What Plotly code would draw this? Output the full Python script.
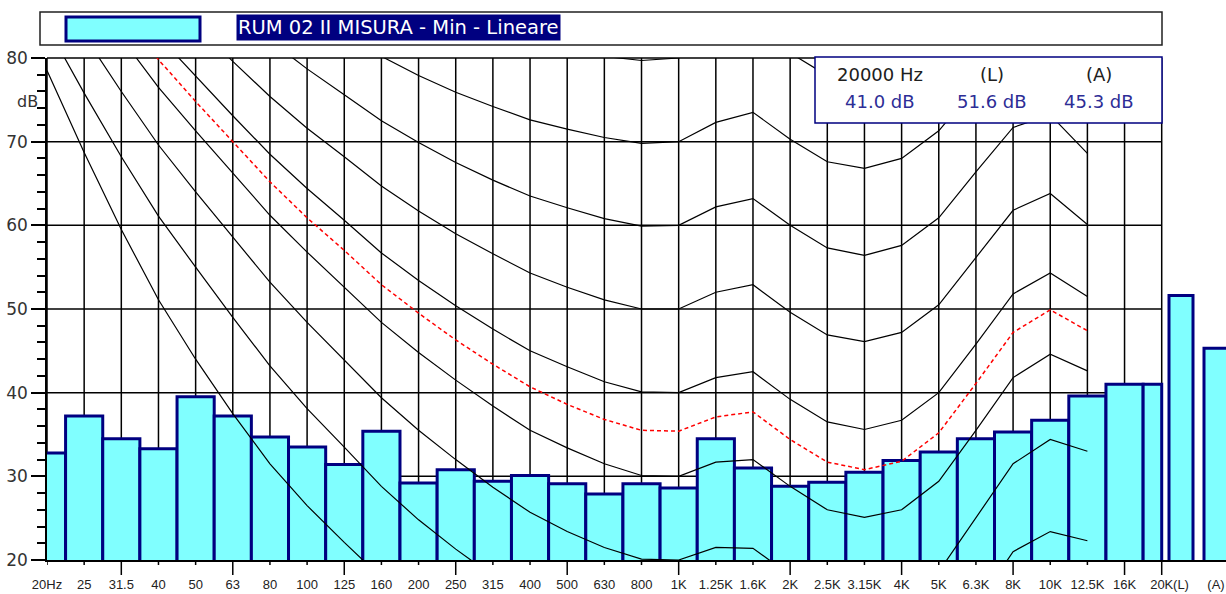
import plotly.graph_objects as go

# ---------------- data ----------------
bands = ["20Hz", "25", "31.5", "40", "50", "63", "80", "100", "125", "160",
         "200", "250", "315", "400", "500", "630", "800", "1K", "1.25K", "1.6K",
         "2K", "2.5K", "3.15K", "4K", "5K", "6.3K", "8K", "10K", "12.5K", "16K", "20K"]
band_levels = [32.8, 37.2, 34.5, 33.3, 39.5, 37.2, 34.7, 33.5, 31.4, 35.4,
               29.2, 30.8, 29.4, 30.1, 29.1, 27.9, 29.1, 28.6, 34.5, 31.0,
               28.8, 29.3, 30.5, 31.9, 32.9, 34.5, 35.3, 36.7, 39.6, 41.0, 41.0]
overall_labels = ["(L)", "(A)"]
overall_levels = [51.6, 45.3]

# equal-loudness contours, 20 Hz .. 12.5 kHz (dB)
threshold = [78.5, 68.7, 59.5, 51.1, 44.0, 37.5, 31.5, 26.5, 22.1, 17.9, 14.4, 11.4, 8.6, 6.2, 4.4,
             3.0, 2.2, 2.4, 3.5, 1.7, -1.3, -4.2, -6.0, -5.4, -1.5, 6.0, 12.6, 13.9, 12.3]
phon10 = [83.8, 75.8, 68.2, 61.1, 55.0, 49.0, 43.2, 38.1, 33.5, 28.8, 24.8, 21.3, 18.1, 15.1, 13.0,
          11.2, 10.0, 10.0, 11.3, 10.4, 7.3, 4.5, 3.0, 3.8, 7.5, 14.4, 21.0, 23.4, 22.3]
phon20 = [89.6, 82.7, 76.0, 69.6, 64.0, 58.6, 53.2, 48.4, 43.9, 39.4, 35.5, 32.0, 28.7, 25.7, 23.4,
          21.5, 20.1, 20.0, 21.5, 21.4, 18.2, 15.4, 14.3, 15.1, 18.6, 25.0, 31.5, 34.4, 33.0]
phon30 = [94.9, 88.5, 82.4, 76.5, 71.3, 66.2, 61.2, 56.8, 52.6, 48.4, 44.8, 41.5, 38.4, 35.5, 33.4,
          31.5, 30.1, 30.0, 31.7, 32.0, 28.8, 26.0, 25.1, 26.0, 29.4, 35.5, 41.8, 44.6, 42.6]
phon40 = [99.9, 93.9, 88.2, 82.6, 77.8, 73.1, 68.5, 64.4, 60.6, 56.7, 53.4, 50.4, 47.6, 45.0, 43.1,
          41.3, 40.1, 40.0, 41.8, 42.5, 39.2, 36.5, 35.6, 36.7, 40.0, 45.8, 51.8, 54.3, 51.5]
phon50 = [104.7, 99.2, 93.7, 88.5, 84.0, 79.6, 75.4, 71.6, 68.2, 64.7, 61.7, 59.0, 56.6, 54.3, 52.6,
          51.1, 50.0, 50.0, 52.0, 52.9, 49.6, 46.9, 46.1, 47.2, 50.5, 56.1, 61.8, 63.8, 60.1]
phon60 = [109.5, 104.2, 99.1, 94.2, 90.0, 85.9, 82.1, 78.7, 75.6, 72.5, 69.9, 67.5, 65.4, 63.5, 62.1,
          60.8, 59.9, 60.0, 62.2, 63.2, 60.0, 57.3, 56.4, 57.6, 60.9, 66.4, 71.7, 73.2, 68.6]
phon70 = [114.3, 109.3, 104.4, 99.8, 95.9, 92.2, 88.6, 85.6, 82.9, 80.2, 77.9, 75.9, 74.2, 72.6, 71.5,
          70.5, 69.8, 70.0, 72.3, 73.5, 70.3, 67.6, 66.8, 68.0, 71.3, 76.6, 81.5, 82.5, 77.0]
phon80 = [119.0, 114.2, 109.7, 105.3, 101.7, 98.4, 95.2, 92.5, 90.1, 87.8, 85.9, 84.3, 82.9, 81.7, 80.9,
          80.2, 79.7, 80.0, 82.5, 83.7, 80.6, 77.9, 77.1, 78.3, 81.6, 86.8, 91.4, 91.7, 85.4]
rating_contour = [97.6, 91.5, 85.5, 79.8, 74.8, 70.0, 65.2, 60.9, 57.0, 52.9, 49.5, 46.3, 43.4, 40.7, 38.6,
                  36.8, 35.5, 35.4, 37.1, 37.7, 34.4, 31.7, 30.8, 31.8, 35.2, 41.1, 47.2, 49.9, 47.4]

legend_label = "RUM 02 II MISURA - Min - Lineare"
info_freq = "20000 Hz"

# ---------------- geometry ----------------
W, H = 1226, 594
ML, MT, MB = 47, 58, 34
PW = W - ML
PH = H - MT - MB
PX_PER_BAND = 37.157
X_MAX = PW / PX_PER_BAND
overall_x = [(1181 - ML) / PX_PER_BAND, (1216 - ML) / PX_PER_BAND]
overall_w = 24 / PX_PER_BAND


def xp(px):
    return (px - ML) / PW


def yp(py):
    return (MT + PH - py) / PH


NAVY = "#000080"
FILL = "#80ffff"
octaves = {"31.5", "63", "125", "250", "500", "1K", "2K", "4K", "8K", "16K", "20K"}

fig = go.Figure()

# spectrum bars
nb = len(bands)
widths = [1.0] * (nb - 1) + [0.5]
fig.add_trace(go.Bar(
    x=list(range(nb)), y=band_levels, width=widths, offset=[-0.5] * nb,
    marker=dict(color=FILL, line=dict(color=NAVY, width=3)), hoverinfo="skip"))
fig.add_trace(go.Bar(
    x=overall_x, y=overall_levels, width=[overall_w] * 2,
    marker=dict(color=FILL, line=dict(color=NAVY, width=3)), hoverinfo="skip"))

# contours
cx = list(range(29))
for curve in [threshold, phon10, phon20, phon30, phon40, phon50, phon60, phon70, phon80]:
    fig.add_trace(go.Scatter(x=cx, y=curve, mode="lines",
                             line=dict(color="black", width=1.2), hoverinfo="skip"))
fig.add_trace(go.Scatter(x=cx, y=rating_contour, mode="lines",
                         line=dict(color="red", width=1.5, dash="4px,3px"), hoverinfo="skip"))

shapes = []
# vertical grid + ticks
for i, b in enumerate(bands):
    tl = 15 if b in octaves else 5
    shapes.append(dict(type="line", xref="x", yref="paper", x0=i, x1=i, y0=-tl / PH, y1=1,
                       line=dict(color="black", width=1.5), layer="below"))
for v in [30, 40, 50, 60, 70]:
    shapes.append(dict(type="line", xref="x", yref="y", x0=0, x1=nb - 1, y0=v, y1=v,
                       line=dict(color="black", width=1.5), layer="below"))
shapes.append(dict(type="line", xref="x", yref="paper", x0=0, x1=nb - 1, y0=1, y1=1,
                   line=dict(color="black", width=1.5), layer="below"))

# legend frame
shapes.append(dict(type="rect", xref="paper", yref="paper", x0=xp(40), x1=xp(1162), y0=yp(45), y1=yp(12),
                   line=dict(color="#202020", width=1.5), fillcolor="white", layer="above"))
shapes.append(dict(type="rect", xref="paper", yref="paper", x0=xp(66), x1=xp(200), y0=yp(41), y1=yp(17),
                   line=dict(color=NAVY, width=3), fillcolor=FILL, layer="above"))
# info box
shapes.append(dict(type="rect", xref="paper", yref="paper", x0=xp(815), x1=xp(1162), y0=yp(123), y1=yp(57),
                   line=dict(color=NAVY, width=1.5), fillcolor="white", layer="above"))

annotations = [
    dict(xref="paper", yref="paper", x=xp(398), y=yp(27.5), text=legend_label, showarrow=False,
         bgcolor=NAVY, borderpad=1, font=dict(family="DejaVu Sans", size=19.5, color="white"),
         xanchor="center", yanchor="middle"),
    dict(xref="paper", yref="paper", x=xp(27), y=yp(101), text="dB", showarrow=False,
         font=dict(family="DejaVu Sans", size=16, color="#333"), xanchor="center", yanchor="middle"),
]
info_cols = [880, 992, 1099]
headers = [info_freq, overall_labels[0], overall_labels[1]]
values = [f"{band_levels[-1]:.1f} dB", f"{overall_levels[0]:.1f} dB", f"{overall_levels[1]:.1f} dB"]
for cxp, h, v in zip(info_cols, headers, values):
    annotations.append(dict(xref="paper", yref="paper", x=xp(cxp), y=yp(75), text=h, showarrow=False,
                            font=dict(family="DejaVu Sans", size=18, color="#202020"),
                            xanchor="center", yanchor="middle"))
    annotations.append(dict(xref="paper", yref="paper", x=xp(cxp), y=yp(101), text=v, showarrow=False,
                            font=dict(family="DejaVu Sans", size=18, color="#2d2d96"),
                            xanchor="center", yanchor="middle"))

fig.update_layout(
    width=W, height=H, margin=dict(l=ML, r=0, t=MT, b=MB, pad=0, autoexpand=False),
    paper_bgcolor="white", plot_bgcolor="white", showlegend=False, barmode="overlay",
    shapes=shapes, annotations=annotations,
    xaxis=dict(range=[0, X_MAX], tickmode="array",
               tickvals=list(range(nb)) + overall_x, ticktext=bands + overall_labels,
               ticks="", showline=True, linecolor="black", linewidth=1.5, showgrid=False, zeroline=False,
               tickangle=0, automargin=False,
               tickfont=dict(family="Liberation Sans", size=13, color="#222"), ticklabelstandoff=12,
               fixedrange=True),
    yaxis=dict(range=[20, 80], tickmode="array", tickvals=[20, 30, 40, 50, 60, 70, 80],
               ticks="outside", ticklen=14, tickwidth=1.5, tickcolor="black", automargin=False,
               showline=True, linecolor="black", linewidth=1.5, showgrid=False, zeroline=False,
               minor=dict(dtick=2, ticks="outside", ticklen=8, tickwidth=1.5, tickcolor="black", showgrid=False),
               tickfont=dict(family="DejaVu Sans", size=17, color="#333"), fixedrange=True),
)

fig.write_html("out.html", config={"displayModeBar": False},
               post_script="document.body.style.margin='0px';")
